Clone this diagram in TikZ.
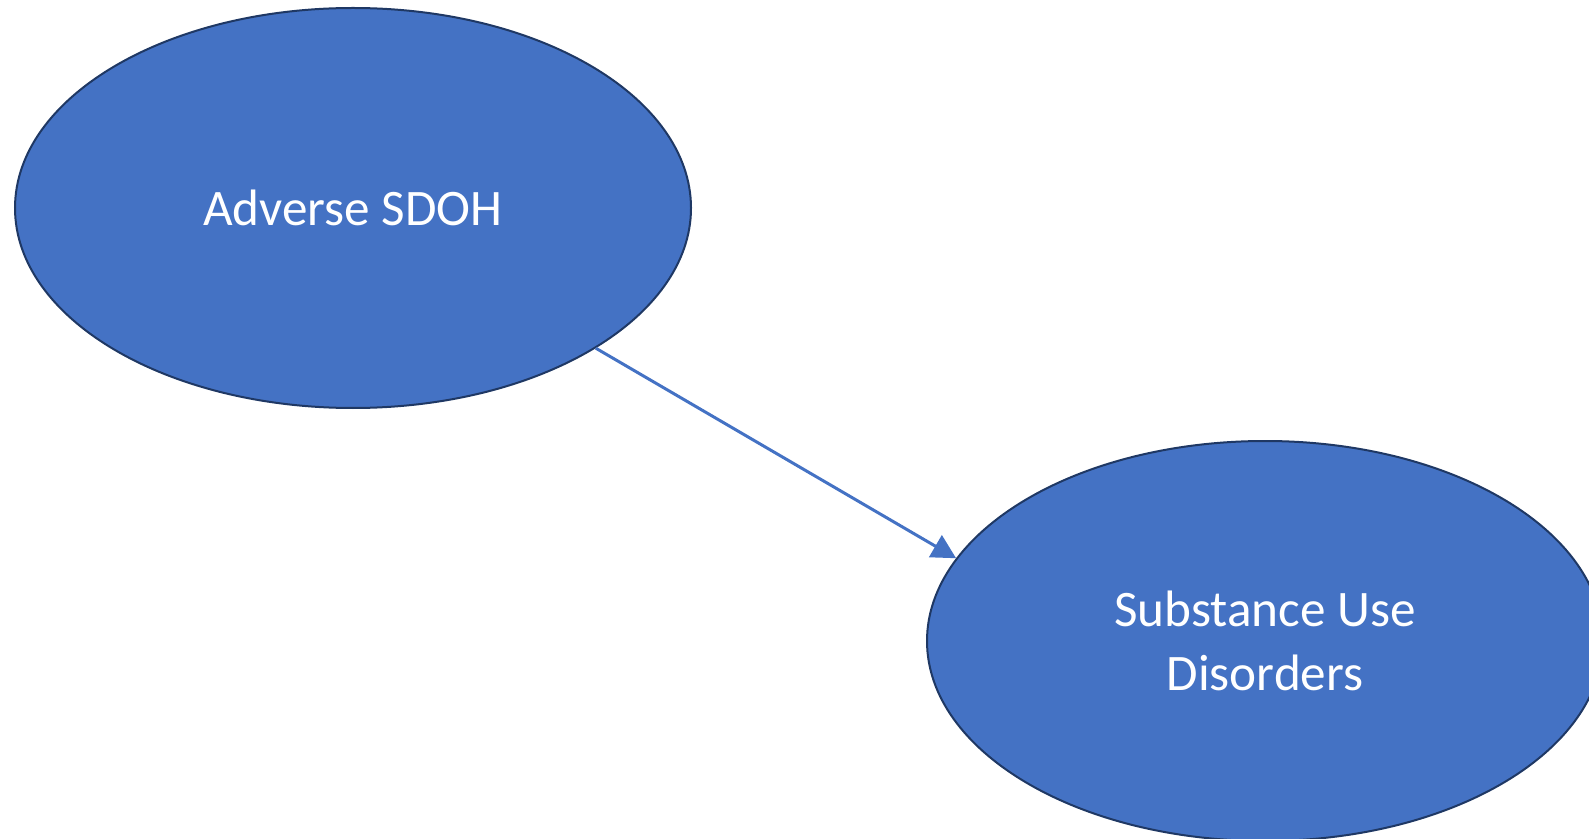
\documentclass[tikz,border=0pt]{standalone}
\usepackage{fontspec}
\setmainfont{Carlito}
\usepackage{xcolor}
\usepackage{tikz}
\usetikzlibrary{positioning,arrows.meta,shapes}
\definecolor{officeblue}{HTML}{4472C4}
\definecolor{officeedge}{HTML}{1F3864}

\begin{document}
\begin{tikzpicture}[x=0.5pt, y=-0.5pt,
    factor/.style={ellipse, draw=officeedge, line width=1pt, fill=officeblue, text=white,
        minimum width=338pt, minimum height=200pt, inner sep=0pt, align=center,
        font=\fontsize{25.6}{32}\selectfont}]
    \useasboundingbox (0,0) rectangle (1589,839);
    \clip (0,0) rectangle (1589,839);

    % Exposure and outcome
    \node[factor] (sdoh) at (353,208) {Adverse SDOH};
    \node[factor] (sud) at (1265,641) {Substance Use\\Disorders};

    \draw[line width=1.5pt, officeblue, -{Triangle[length=12pt, width=12.5pt]}] (sdoh.-30.5) -- (sud.165);
\end{tikzpicture}
\end{document}
